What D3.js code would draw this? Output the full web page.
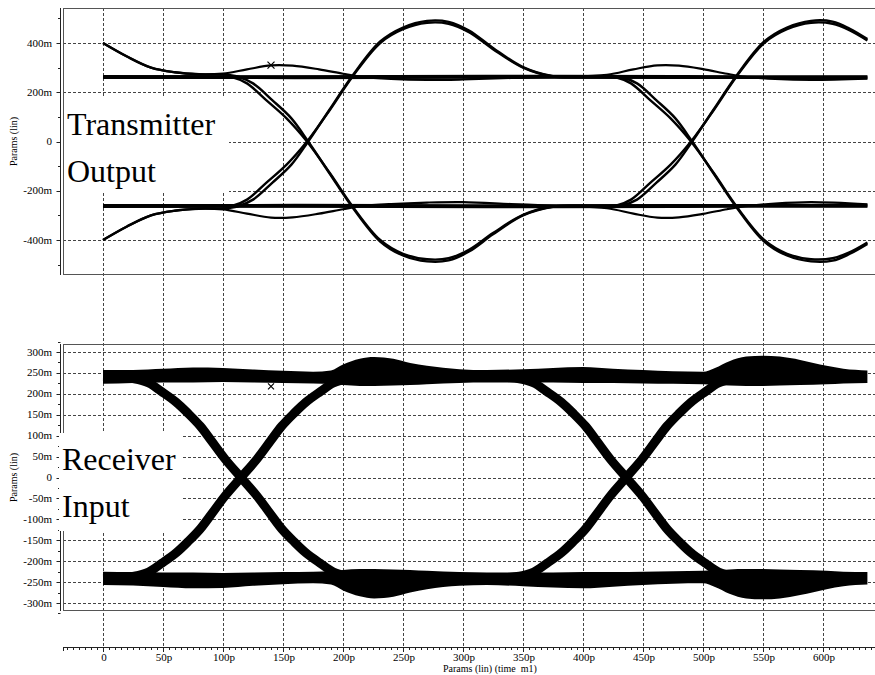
<!DOCTYPE html>
<html>
<head>
<meta charset="utf-8">
<script src="https://cdn.jsdelivr.net/npm/d3@7/dist/d3.min.js"></script>
<style>
body { margin: 0; background: #fff; }
svg { display: block; }
</style>
</head>
<body>
<div id="chart"></div>
<script>
// time axis (ps)
var timeTicks = [0, 50, 100, 150, 200, 250, 300, 350, 400, 450, 500, 550, 600];
var timeLabels = ["0", "50p", "100p", "150p", "200p", "250p", "300p", "350p", "400p", "450p", "500p", "550p", "600p"];

// transmitter output axis (mV)
var txTicks = [-400, -200, 0, 200, 400];
var txLabels = ["-400m", "-200m", "0", "200m", "400m"];
var txMinor = [-500, -300, -100, 100, 300, 500];

// receiver input axis (mV)
var rxTicks = [-300, -250, -200, -150, -100, -50, 0, 50, 100, 150, 200, 250, 300];
var rxLabels = ["-300m", "-250m", "-200m", "-150m", "-100m", "-50m", "0", "50m", "100m", "150m", "200m", "250m", "300m"];
var rxMinor = [-325, -275, -225, -175, -125, -75, -25, 25, 75, 125, 175, 225, 275, 325];

// transmitter traces [t ps, v mV]
var txHighSteady = [[0, 262], [160, 261], [320, 263], [480, 262], [637, 261]];
var txLowSteady = [[0, -262], [160, -261], [320, -263], [480, -262], [637, -261]];
var txHighBump = [[0, 400], [20, 345], [40, 300], [60, 281], [80, 273], [100, 276], [120, 293], [140, 309], [158, 308], [180, 293], [200, 275], [215, 263], [240, 254], [270, 250], [300, 252], [340, 258], [380, 262], [420, 271], [442, 293], [462, 309], [480, 308], [500, 294], [520, 275], [535, 263], [560, 254], [590, 250], [637, 255]];
var txLowBump = [[0, -400], [20, -345], [40, -300], [60, -281], [80, -273], [100, -276], [120, -293], [140, -309], [158, -308], [180, -293], [200, -275], [215, -263], [240, -254], [270, -248], [300, -246], [340, -254], [380, -262], [420, -271], [442, -293], [462, -309], [480, -308], [500, -294], [520, -275], [535, -263], [560, -252], [590, -246], [637, -255]];
var txFallRise = [[0, 262], [100, 263], [108, 261], [120, 236], [136, 168], [153, 94], [170, 0], [189, -128], [208, -264], [231, -400], [250, -456], [270, -478], [288, -474], [305, -440], [325, -372], [350, -298], [375, -264], [400, -261], [420, -262], [428, -260], [440, -236], [456, -168], [473, -94], [490, 0], [509, 128], [528, 264], [551, 400], [570, 456], [590, 482], [608, 478], [622, 452], [637, 410]];
var txRiseFall = [[0, -262], [100, -263], [108, -261], [120, -236], [136, -168], [153, -94], [170, 0], [189, 128], [208, 264], [231, 400], [250, 456], [270, 482], [288, 478], [305, 444], [325, 375], [350, 300], [375, 264], [400, 261], [420, 262], [428, 260], [440, 236], [456, 168], [473, 94], [490, 0], [509, -128], [528, -264], [551, -400], [570, -456], [590, -478], [608, -474], [622, -450], [637, -410]];
var txFallHold = [[0, 400], [20, 345], [40, 300], [60, 281], [80, 273], [100, 272], [112, 264], [125, 236], [141, 168], [157, 94], [171, 0], [189, -131], [208, -268], [231, -406], [250, -463], [270, -487], [288, -483], [305, -447], [325, -377], [350, -300], [375, -265], [400, -261], [637, -262]];
var txRiseHold = [[0, -400], [20, -345], [40, -300], [60, -281], [80, -273], [100, -272], [112, -264], [125, -236], [141, -168], [157, -94], [171, 0], [189, 131], [208, 268], [231, 406], [250, 463], [270, 490], [288, 486], [305, 451], [325, 380], [350, 302], [375, 265], [400, 261], [637, 262]];
var txHoldFall = [[0, 262], [420, 262], [432, 260], [445, 236], [461, 168], [477, 94], [491, 0], [509, -131], [528, -268], [551, -406], [570, -463], [590, -487], [608, -484], [622, -457], [637, -416]];
var txHoldRise = [[0, -262], [420, -262], [432, -260], [445, -236], [461, -168], [477, -94], [491, 0], [509, 131], [528, 268], [551, 406], [570, 463], [590, 490], [608, 487], [622, 459], [637, 416]];
var txMarker = [140, 310];

// receiver rails [t ps, low mV, high mV]
var rxHighRail = [[0, 224, 257], [25, 226, 257], [50, 227, 260], [75, 227, 263], [100, 228, 262], [125, 227, 258], [150, 226, 255], [175, 225, 253], [190, 224, 256], [200, 221, 270], [214, 219, 284], [226, 219, 288], [242, 220, 284], [256, 221, 274], [270, 223, 267], [297, 226, 259], [320, 227, 257], [350, 227, 259], [375, 227, 262], [400, 226, 264], [425, 226, 260], [450, 225, 257], [475, 224, 254], [500, 223, 253], [510, 222, 262], [522, 220, 278], [536, 219, 289], [550, 219, 291], [564, 220, 289], [581, 221, 281], [603, 223, 267], [617, 225, 260], [637, 226, 256]];
var rxLowRail = [[0, -257, -225], [25, -258, -226], [50, -262, -227], [75, -265, -227], [100, -264, -228], [125, -259, -227], [150, -255, -226], [175, -253, -225], [190, -256, -224], [200, -270, -221], [214, -284, -219], [226, -289, -219], [242, -285, -220], [256, -275, -221], [270, -267, -223], [297, -259, -226], [320, -257, -227], [350, -260, -227], [375, -263, -227], [400, -265, -226], [425, -261, -226], [450, -257, -225], [475, -254, -224], [500, -253, -223], [510, -262, -222], [522, -278, -220], [536, -289, -219], [550, -291, -219], [564, -289, -220], [581, -281, -221], [603, -267, -223], [617, -260, -225], [637, -256, -226]];
// receiver transitions [t ps, v mV]
var rxFall1 = [[0, 241], [11, 240], [26, 236], [38, 226], [49, 205], [61, 180], [71, 153], [81, 123], [90, 89], [102, 43], [115, 0], [128, -43], [140, -89], [149, -123], [159, -153], [169, -180], [181, -205], [192, -226], [204, -236], [219, -240]];
var rxRise1 = [[0, -241], [11, -240], [26, -236], [38, -226], [49, -205], [61, -180], [71, -153], [81, -123], [90, -89], [102, -43], [115, 0], [128, 43], [140, 89], [149, 123], [159, 153], [169, 180], [181, 205], [192, 226], [204, 236], [219, 240]];
var rxFall2 = [[322, 241], [332, 240], [347, 236], [359, 226], [370, 205], [382, 180], [392, 153], [402, 123], [411, 89], [423, 43], [436, 0], [449, -43], [461, -89], [470, -123], [480, -153], [490, -180], [502, -205], [513, -226], [525, -236], [540, -240]];
var rxRise2 = [[322, -241], [332, -240], [347, -236], [359, -226], [370, -205], [382, -180], [392, -153], [402, -123], [411, -89], [423, -43], [436, 0], [449, 43], [461, 89], [470, 123], [480, 153], [490, 180], [502, 205], [513, 226], [525, 236], [540, 240]];
var rxMarker = [140, 218];

(function () {
    "use strict";
    var svg, x, yTx, yRx, minorTime, i, txLine, rxArea, rxLine,
        width = 875,
        height = 675,
        plotLeft = 63,
        plotRight = 875,
        axisX = 60.5,
        panels = {
            tx: {top: 8, bottom: 274},
            rx: {top: 344, bottom: 610}
        },
        timeAxisY = 647,
        gridColor = "#444",
        serif = "'Liberation Serif', 'Times New Roman', serif";

    svg = d3.select("#chart").append("svg")
        .attr("width", width)
        .attr("height", height);

    x = d3.scaleLinear().domain([0, 600]).range([103, 823]);
    yTx = d3.scaleLinear().domain([-400, 400]).range([240, 43]);
    yRx = d3.scaleLinear().domain([-300, 300]).range([603, 352]);

    // vertical grid, runs through both panels down to the time axis
    svg.append("g").selectAll("line").data(timeTicks).enter().append("line")
        .attr("x1", function (d) { return x(d) + 0.5; })
        .attr("x2", function (d) { return x(d) + 0.5; })
        .attr("y1", panels.tx.top)
        .attr("y2", timeAxisY)
        .attr("stroke", gridColor)
        .attr("stroke-dasharray", "3,2");

    function hGrid(ticks, y) {
        svg.append("g").selectAll("line").data(ticks).enter().append("line")
            .attr("x1", plotLeft)
            .attr("x2", plotRight)
            .attr("y1", function (d) { return Math.round(y(d)) + 0.5; })
            .attr("y2", function (d) { return Math.round(y(d)) + 0.5; })
            .attr("stroke", gridColor)
            .attr("stroke-dasharray", "3,2");
    }
    hGrid(txTicks, yTx);
    hGrid(rxTicks, yRx);

    function frame(p) {
        svg.append("line").attr("x1", plotLeft).attr("x2", plotRight)
            .attr("y1", p.top + 0.5).attr("y2", p.top + 0.5)
            .attr("stroke", "#555");
        svg.append("line").attr("x1", plotLeft).attr("x2", plotRight)
            .attr("y1", p.bottom + 0.5).attr("y2", p.bottom + 0.5)
            .attr("stroke", "#555");
        svg.append("line").attr("x1", plotLeft + 0.5).attr("x2", plotLeft + 0.5)
            .attr("y1", p.top).attr("y2", p.bottom)
            .attr("stroke", "#555");
    }
    frame(panels.tx);
    frame(panels.rx);

    function leftAxis(p, y, ticks, labels, minor) {
        var g = svg.append("g");
        g.append("line").attr("x1", axisX).attr("x2", axisX)
            .attr("y1", p.top).attr("y2", p.bottom + 1)
            .attr("stroke", "#222");
        g.selectAll("line.major").data(ticks).enter().append("line")
            .attr("class", "major")
            .attr("x1", axisX - 4).attr("x2", axisX)
            .attr("y1", function (d) { return Math.round(y(d)) + 0.5; })
            .attr("y2", function (d) { return Math.round(y(d)) + 0.5; })
            .attr("stroke", "#222");
        g.selectAll("line.minor").data(minor).enter().append("line")
            .attr("class", "minor")
            .attr("x1", axisX - 2.5).attr("x2", axisX)
            .attr("y1", function (d) { return Math.round(y(d)) + 0.5; })
            .attr("y2", function (d) { return Math.round(y(d)) + 0.5; })
            .attr("stroke", "#222");
        g.selectAll("text").data(ticks).enter().append("text")
            .attr("x", 52)
            .attr("y", function (d) { return y(d) + 3.5; })
            .attr("text-anchor", "end")
            .style("font-family", serif)
            .style("font-size", "11px")
            .text(function (d, j) { return labels[j]; });
        g.append("text")
            .attr("transform", "translate(17," + y(0) + ") rotate(-90)")
            .attr("text-anchor", "middle")
            .style("font-family", serif)
            .style("font-size", "10px")
            .text("Params (lin)");
    }
    leftAxis(panels.tx, yTx, txTicks, txLabels, txMinor);
    leftAxis(panels.rx, yRx, rxTicks, rxLabels, rxMinor);

    // time axis
    minorTime = [];
    for (i = -30; i <= 640; i += 5) {
        if (i % 50 !== 0) {
            minorTime.push(i);
        }
    }
    svg.append("line").attr("x1", plotLeft).attr("x2", plotRight)
        .attr("y1", timeAxisY + 0.5).attr("y2", timeAxisY + 0.5)
        .attr("stroke", "#222");
    svg.append("line").attr("x1", plotLeft + 0.5).attr("x2", plotLeft + 0.5)
        .attr("y1", timeAxisY).attr("y2", timeAxisY + 4)
        .attr("stroke", "#222");
    svg.append("g").selectAll("line").data(minorTime).enter().append("line")
        .attr("x1", function (d) { return Math.round(x(d)) + 0.5; })
        .attr("x2", function (d) { return Math.round(x(d)) + 0.5; })
        .attr("y1", timeAxisY)
        .attr("y2", timeAxisY + 3)
        .attr("stroke", "#222");
    svg.append("g").selectAll("line").data(timeTicks).enter().append("line")
        .attr("x1", function (d) { return x(d) + 0.5; })
        .attr("x2", function (d) { return x(d) + 0.5; })
        .attr("y1", timeAxisY)
        .attr("y2", timeAxisY + 5)
        .attr("stroke", "#222");
    svg.append("g").selectAll("text").data(timeTicks).enter().append("text")
        .attr("x", function (d) { return x(d) + 1; })
        .attr("y", 661)
        .attr("text-anchor", "middle")
        .style("font-family", serif)
        .style("font-size", "11px")
        .text(function (d, j) { return timeLabels[j]; });
    svg.append("text")
        .attr("x", 443).attr("y", 672)
        .style("font-family", serif)
        .style("font-size", "10px")
        .style("white-space", "pre")
        .text("Params (lin) (time  m1)");

    // white boxes behind the panel captions
    svg.append("rect").attr("x", 64).attr("y", 97).attr("width", 165).attr("height", 96)
        .attr("fill", "#fff");
    svg.append("rect").attr("x", 59).attr("y", 433).attr("width", 123).attr("height", 98)
        .attr("fill", "#fff");

    function caption(lines, x0, y0) {
        svg.append("g").selectAll("text").data(lines).enter().append("text")
            .attr("x", x0)
            .attr("y", function (d, j) { return y0 + j * 47; })
            .style("font-family", serif)
            .style("font-size", "32px")
            .text(function (d) { return d; });
    }
    caption(["Transmitter", "Output"], 67, 135);
    caption(["Receiver", "Input"], 62, 470);

    // transmitter traces
    txLine = d3.line()
        .x(function (d) { return x(d[0]); })
        .y(function (d) { return yTx(d[1]); })
        .curve(d3.curveCatmullRom.alpha(0.5));

    svg.append("g").selectAll("path")
        .data([txHighSteady, txLowSteady])
        .enter().append("path")
        .attr("d", txLine)
        .attr("fill", "none")
        .attr("stroke", "#000")
        .attr("stroke-width", 3.8);
    svg.append("g").selectAll("path")
        .data([txHighBump, txLowBump])
        .enter().append("path")
        .attr("d", txLine)
        .attr("fill", "none")
        .attr("stroke", "#000")
        .attr("stroke-width", 2.2);
    svg.append("g").selectAll("path")
        .data([txFallRise, txRiseFall, txFallHold, txRiseHold, txHoldFall, txHoldRise])
        .enter().append("path")
        .attr("d", txLine)
        .attr("fill", "none")
        .attr("stroke", "#000")
        .attr("stroke-width", 2.4);

    // receiver rails and transitions
    rxArea = d3.area()
        .x(function (d) { return x(d[0]); })
        .y0(function (d) { return yRx(d[1]); })
        .y1(function (d) { return yRx(d[2]); })
        .curve(d3.curveMonotoneX);
    rxLine = d3.line()
        .x(function (d) { return x(d[0]); })
        .y(function (d) { return yRx(d[1]); })
        .curve(d3.curveCatmullRom.alpha(0.5));

    svg.append("g").selectAll("path")
        .data([rxFall1, rxRise1, rxFall2, rxRise2])
        .enter().append("path")
        .attr("d", rxLine)
        .attr("fill", "none")
        .attr("stroke", "#000")
        .attr("stroke-width", 9);
    svg.append("g").selectAll("path")
        .data([rxHighRail, rxLowRail])
        .enter().append("path")
        .attr("d", rxArea)
        .attr("fill", "#000");

    function marker(p, y, size) {
        var cx = x(p[0]), cy = y(p[1]);
        svg.append("path")
            .attr("d", "M" + (cx - size) + "," + (cy - size) + "L" + (cx + size) + "," + (cy + size) +
                "M" + (cx - size) + "," + (cy + size) + "L" + (cx + size) + "," + (cy - size))
            .attr("stroke", "#000")
            .attr("stroke-width", 1.2);
    }
    marker(txMarker, yTx, 3.5);
    marker(rxMarker, yRx, 3);
}());
</script>
</body>
</html>
